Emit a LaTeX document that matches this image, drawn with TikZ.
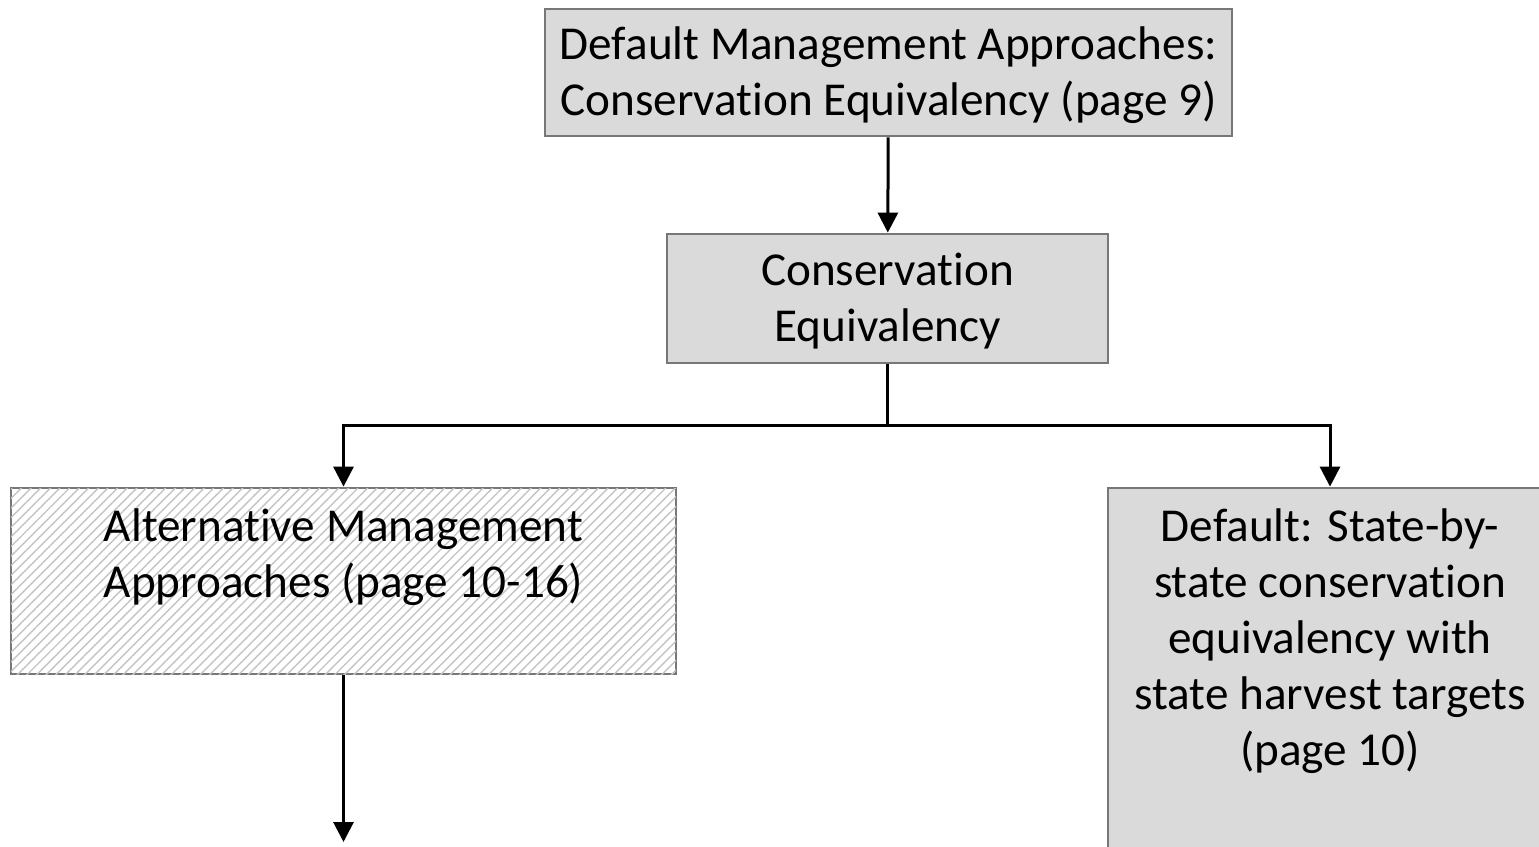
\documentclass[tikz,border=0pt]{standalone}
\usepackage{fontspec}
\setmainfont[Ligatures=NoCommon]{Carlito}
\usepackage{tikz}
\usetikzlibrary{arrows.meta,positioning,calc,patterns.meta}
\definecolor{boxline}{HTML}{777777}
\definecolor{boxfill}{HTML}{DADADA}
\definecolor{hatchline}{HTML}{C4C4C4}
\tikzset{
  box/.style     = {draw=boxline, line width=0.7pt, rectangle, fill=boxfill,
                    inner sep=0pt},
  hatchbox/.style = {draw=boxline, line width=0.7pt, rectangle, fill=white,
                    inner sep=0pt,
                    postaction={pattern={Lines[angle=45,distance=1.7pt,line width=0.35pt]},
                                pattern color=hatchline}},
  lbl/.style     = {align=center, inner sep=0pt, font=\fontsize{11.8}{14}\selectfont},
  sig/.style     = {-{Triangle[length=5pt,width=5pt]}, line width=0.75pt},
}

\begin{document}
\begin{tikzpicture}[x=0.25pt,y=-0.25pt]
\useasboundingbox (0,0) rectangle (1539,846);
\clip (0,0) rectangle (1539,846);
% boxes
\node[box, minimum width=171.75pt, minimum height=31.75pt] (dma) at (888.5,72.5) {};
\node[box, minimum width=110.25pt, minimum height=32.25pt] (ce) at (887.5,298.5) {};
\node[hatchbox, minimum width=166.25pt, minimum height=46.5pt] (alt) at (343.5,581) {};
\node[box, minimum width=111pt, minimum height=128pt] (sbs) at (1330,744) {};
% texts
\node[lbl] (dmaText) at (888.5,75.5) {Default Management Approaches:\\Conservation Equivalency (page 9)};
\node[lbl] (ceText) at (887.5,301.5) {Conservation\\Equivalency};
\node[lbl, anchor=north] (altText) at (343.5,508) {Alternative Management\\Approaches (page 10-16)};
\node[lbl, anchor=north] (sbsText) at (1330,508) {Default: State-by-\\state conservation\\equivalency with\\state harvest targets\\(page 10)};
% connectors
\coordinate (split) at (887.5,425);
\coordinate (altEnd) at (343.5,842);
\draw[sig] (dma) -- (ce);
\draw[line width=0.75pt] (ce) -- (split);
\draw[sig] (split) -| (alt.north);
\draw[sig] (split) -| (sbs.north);
\draw[sig] (alt) -- (altEnd);
\end{tikzpicture}
\end{document}
